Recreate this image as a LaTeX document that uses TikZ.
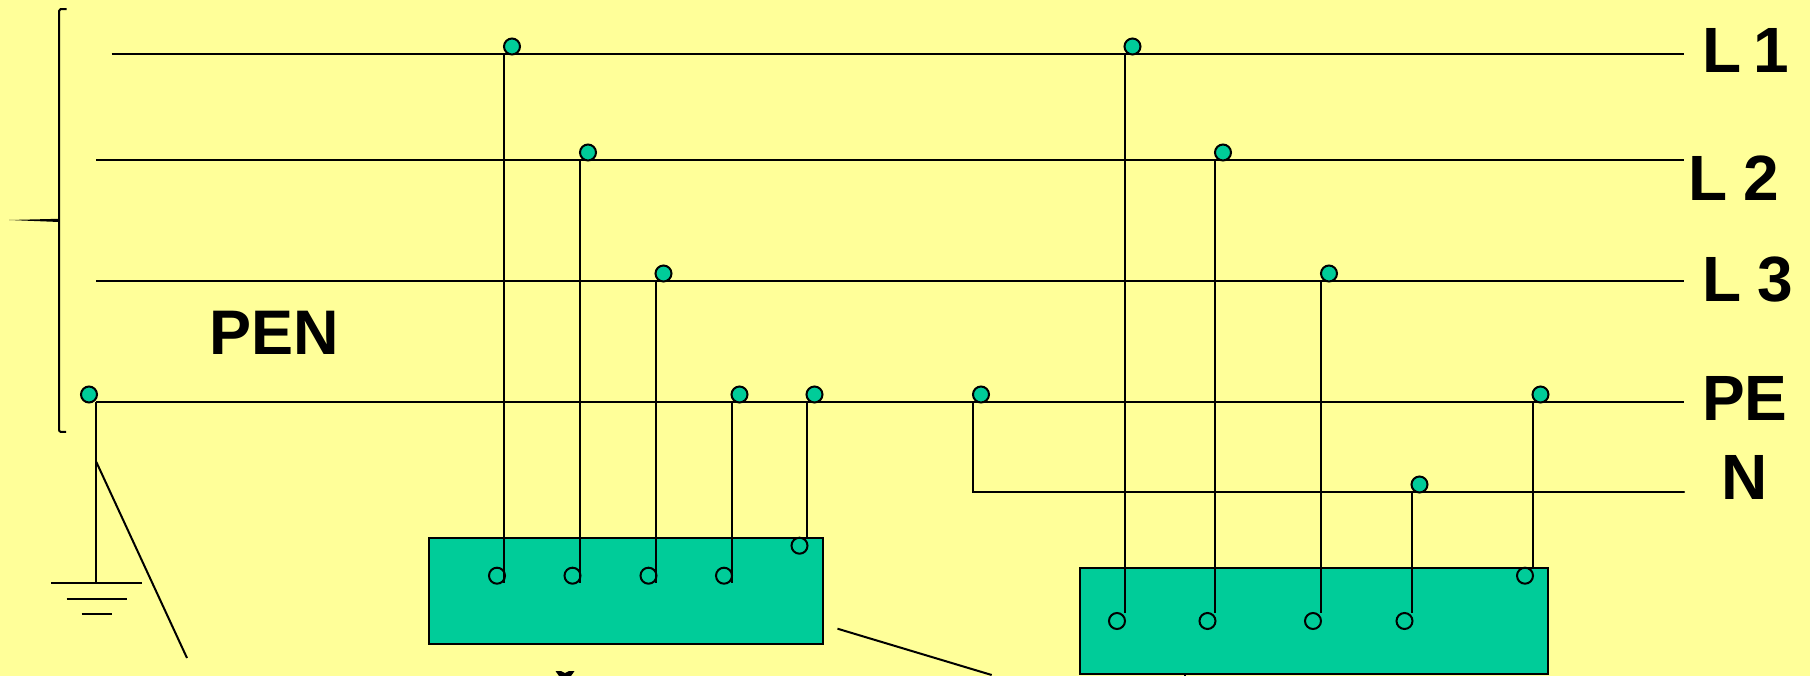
\documentclass[tikz,border=0pt]{standalone}
\usepackage{fontspec}
\setmainfont{Liberation Sans}
\definecolor{bgy}{HTML}{FFFF99}
\definecolor{teal1}{HTML}{00CC99}
\tikzset{
 wire/.style={line width=2pt,line cap=butt},
 thin wire/.style={line width=2pt},
 loadbox/.style={draw=black,fill=teal1,line width=2pt},
 tap/.style={circle,draw=black,fill=teal1,line width=2pt,minimum size=16pt,inner sep=0pt},
 term/.style={circle,draw=black,line width=2pt,minimum size=16pt,inner sep=0pt},
 lab/.style={font=\fontsize{64}{64}\selectfont\bfseries,anchor=base west,inner sep=0pt,text=black},
}
\begin{document}
\begin{tikzpicture}[x=1pt,y=-1pt]
\useasboundingbox (0,0) rectangle (1810,676);
\fill[bgy] (0,0) rectangle (1810,676);
% boxes
\node[loadbox,minimum width=393.5pt,minimum height=106pt,inner sep=0pt,anchor=north west] (boxA) at (428.2,536.7) {};
\node[loadbox,minimum width=468pt,minimum height=106pt,inner sep=0pt,anchor=north west] (boxB) at (1078.6,567.4) {};
% bus ends
\coordinate (l1a) at (111.5,54); \coordinate (l1b) at (1684,54);
\coordinate (l2a) at (96.2,160); \coordinate (l2b) at (1684,160);
\coordinate (l3a) at (96.2,281); \coordinate (l3b) at (1684,281);
\coordinate (pea) at (96.2,402); \coordinate (peb) at (1684,402);
\coordinate (na) at (973.3,492); \coordinate (nb) at (1684,492);
\draw[wire] (l1a)--(l1b);
\draw[wire] (l2a)--(l2b);
\draw[wire] (l3a)--(l3b);
\draw[wire] (pea)--(peb);
\draw[wire,line cap=round] (973.3,402)--(na)--(nb);
% taps
\node[tap] (t1) at (512,46.5) {};
\node[tap] (t2) at (588,152.5) {};
\node[tap] (t3) at (663.5,273.5) {};
\node[tap] (t4) at (739.5,394.5) {};
\node[tap] (t5) at (814.5,394.5) {};
\node[tap] (t0) at (89,394.5) {};
\node[tap] (t6) at (981,394.5) {};
\node[tap] (t7) at (1132.5,46.5) {};
\node[tap] (t8) at (1223,152.5) {};
\node[tap] (t9) at (1329,273.5) {};
\node[tap] (t10) at (1419.5,484.5) {};
\node[tap] (t11) at (1540.5,394.5) {};
% terminals
\node[term] (a1) at (497,575.7) {};
\node[term] (a2) at (572.5,575.7) {};
\node[term] (a3) at (648.5,575.7) {};
\node[term] (a4) at (724,575.7) {};
\node[term] (a5) at (799.5,545.7) {};
\node[term] (b1) at (1117,621) {};
\node[term] (b2) at (1207.5,621) {};
\node[term] (b3) at (1313,621) {};
\node[term] (b4) at (1404.5,621) {};
\node[term] (b5) at (1525,575.7) {};
% drops
\draw[thin wire] (504.2,54)--(504.2,583);
\draw[thin wire] (580.2,160)--(580.2,583);
\draw[thin wire] (656,281)--(656,583);
\draw[thin wire] (732,402)--(732,583);
\draw[thin wire] (807,402)--(807,538);
\draw[thin wire] (1124.7,54)--(1124.7,613);
\draw[thin wire] (1215,160)--(1215,613);
\draw[thin wire] (1321,281)--(1321,613);
\draw[thin wire] (1412,492)--(1412,613);
\draw[thin wire] (1532.7,402)--(1532.7,568);
% earth
\coordinate (g0) at (96.2,583);
\coordinate (g1) at (96.2,461.7);
\coordinate (g2) at (187,658);
\draw[thin wire] (pea)--(g0);
\draw[thin wire] (g1)--(g2);
\draw[wire] (51,583)--(142,583);
\draw[wire] (66.6,598.7)--(127,598.7);
\draw[wire] (81.5,613.7)--(111.5,613.7);
% leader lines
\coordinate (c1) at (837.5,628.7); \coordinate (c2) at (991.7,675);
\draw[thin wire] (c1)--(c2);
\draw[thin wire] (1185,674)--(1185,676);
% clipped fragment under the left box
\fill[black] (555.5,671)--(561,671)--(565,673)--(569,671)--(574.5,671)--(571,676)--(559,676)--cycle;
% brace
\draw[thin wire] (66.6,9.2)--(60.5,9.2) to[out=180,in=90] (59,11)--(59,429) to[out=-90,in=180] (60.5,431.8)--(66,431.8);
\fill[black] (59,218.8)--(9,220)--(59,222)--cycle;
% labels
\node[lab] (L1) at (1702,72.7) {L\kern-6pt\ 1};
\node[lab] (L2) at (1688,200.7) {L\kern-2pt\ 2};
\node[lab] (L3) at (1702,301.7) {L\kern-2pt\ 3};
\node[lab] (PE) at (1702,420.7) {PE};
\node[lab] (N) at (1721,499.3) {N};
\node[lab,font=\fontsize{63}{63}\selectfont\bfseries] (PEN) at (209,355) {PEN};
\end{tikzpicture}
\end{document}
